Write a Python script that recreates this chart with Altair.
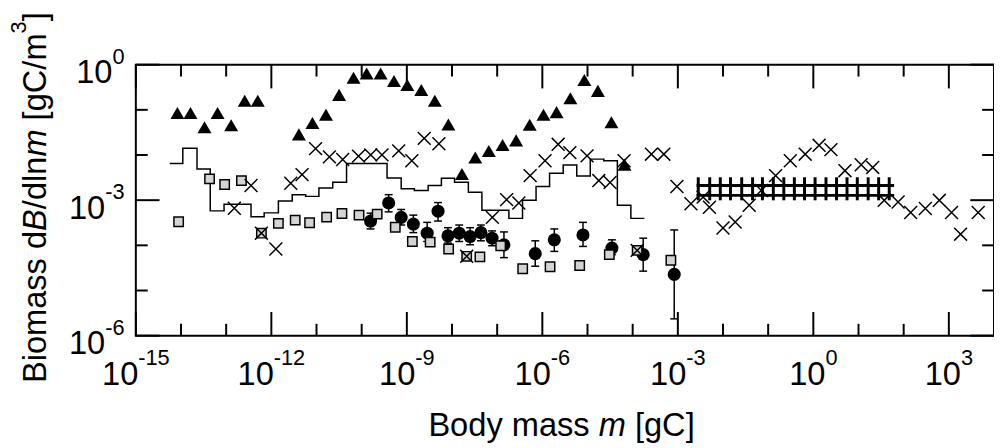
import altair as alt
import pandas as pd

# ---------------- values (log10 units) ----------------
tri_logm = [-14.08, -13.79, -13.48, -13.19, -12.89, -12.59, -12.30,
            -11.39, -11.09, -10.79, -10.50, -10.18, -9.89, -9.58, -9.285, -8.99, -8.68, -8.38, -8.08,
            -7.78, -7.485, -7.185, -6.88, -6.58, -6.28, -5.975, -5.685, -5.38, -5.07, -4.77, -4.47, -4.18]
tri_logB = [-1.07, -1.07, -1.385, -1.07, -1.34, -0.80, -0.80,
            -1.544, -1.29, -1.107, -0.669, -0.29, -0.197, -0.197, -0.363, -0.45, -0.56, -0.80, -1.325,
            -2.42, -2.056, -1.91, -1.78, -1.675, -1.33, -1.107, -1.05, -0.744, -0.34, -0.58, -1.275, -2.216]

cross_logm = [-12.82, -12.45, -12.22, -11.90, -11.57, -11.32, -11.02, -10.715, -10.42, -10.07,
              -9.80, -9.55, -9.18, -8.89, -8.615, -8.29, -7.675, -7.106, -6.79, -6.52,
              -6.27, -5.94, -5.65, -5.39, -5.01, -4.75, -4.50, -4.19, -3.90, -3.585,
              -3.31, -3.02, -2.71, -2.44, -2.30, -2.00, -1.73, -1.42, -1.15, -0.835,
              -0.51, -0.18, 0.127, 0.39, 0.70, 1.06, 1.315, 1.57, 1.877, 2.155,
              2.48, 2.79, 3.06, 3.26, 3.65]
cross_logB = [-3.178, -2.675, -3.731, -4.081, -2.625, -2.434, -1.859, -2.041, -2.10, -2.025,
              -1.997, -1.997, -1.909, -2.128, -1.632, -1.75, -4.243, -3.381, -2.988, -3.062,
              -2.456, -2.128, -1.763, -1.947, -2.019, -2.566, -2.609, -2.128, -4.112, -1.982,
              -1.982, -2.697, -3.08, -2.931, -3.156, -3.616, -3.484, -3.112, -2.784, -2.456,
              -2.128, -1.982, -1.785, -1.881, -2.347, -2.216, -2.275, -3.003, -3.04, -3.272,
              -3.185, -3.003, -3.272, -3.753, -3.272]

sq_logm = [-14.053, -13.368, -13.034, -12.662, -12.22, -11.844, -11.472, -11.153, -10.776, -10.437,
           -10.059, -9.657, -9.256, -8.878, -8.484, -8.075, -7.675, -7.382, -6.922, -6.435,
           -5.829, -5.173, -4.517, -3.90, -3.154]
sq_logB = [-3.478, -2.528, -2.653, -2.566, -3.731, -3.513, -3.441, -3.50, -3.375, -3.294,
           -3.331, -3.309, -3.60, -3.915, -3.928, -4.081, -4.243, -4.256, -4.009, -4.519,
           -4.475, -4.447, -4.206, -4.112, -4.331]

circ_logm = [-9.803, -9.403, -9.125, -8.856, -8.55, -8.309, -8.09, -7.841, -7.60, -7.36,
             -7.113, -6.85, -6.157, -5.735, -5.10, -4.46, -3.767, -3.08]
circ_logB = [-3.462, -3.062, -3.381, -3.528, -3.731, -3.244, -3.79, -3.731, -3.806, -3.718,
             -3.841, -3.987, -4.184, -3.878, -3.769, -4.059, -4.206, -4.643]
circ_lo = [-3.637, -3.259, -3.55, -3.718, -3.915, -3.462, -3.95, -3.915, -3.987, -3.90,
           -4.009, -4.272, -4.462, -4.134, -4.024, -4.206, -4.571, -5.628]
circ_hi = [-3.287, -2.878, -3.206, -3.331, -3.491, -3.053, -3.609, -3.55, -3.609, -3.55,
           -3.681, -3.703, -3.90, -3.637, -3.491, -3.878, -3.841, -3.659]

step_edges = [-14.25, -13.96, -13.646, -13.353, -13.047, -12.749, -12.45, -12.159, -11.844, -11.538,
              -11.24, -10.947, -10.641, -10.335, -10.035, -9.738, -9.438, -9.125, -8.834, -8.528,
              -8.235, -7.944, -7.638, -7.338, -7.038, -6.741, -6.439, -6.139, -5.84, -5.538,
              -5.238, -4.939, -4.639, -4.339, -4.04, -3.74]
step_logB = [-2.187, -1.850, -2.310, -3.237, -3.091, -3.091, -3.368, -3.281, -3.018, -2.878,
             -2.916, -2.730, -2.603, -2.187, -2.187, -2.187, -2.507, -2.747, -2.784, -2.675,
             -2.515, -2.603, -2.822, -3.222, -3.222, -3.403, -3.003, -2.697, -2.406, -2.222,
             -2.467, -2.091, -2.128, -3.112, -3.403]

ladder_logm = [-2.548, -2.294, -2.06, -1.835, -1.586, -1.345, -1.127, -0.886, -0.654, -0.42,
               -0.195, 0.039, 0.28, 0.514, 0.746, 0.973, 1.214, 1.446, 1.68]
ladder_span = [-3.003, -2.493]
rail_range = [-2.585, 1.789]
rail_logB = [-2.675, -2.894]

x_major_exp = [-15, -12, -9, -6, -3, 0, 3]
x_minor_exp = [-14, -13, -11, -10, -8, -7, -5, -4, -2, -1, 1, 2]
y_major_exp = [0, -3, -6]
y_minor_exp = [-1, -2, -4, -5]
x_label_exp = ["-15", "-12", "-9", "-6", "-3", "0", "3"]
y_label_exp = ["0", "-3", "-6"]

x_title = ["Body mass", "m", "[gC]"]
y_title = ["Biomass d", "B", "/dln", "m", "[gC/m", "3", "]"]

# ---------------- layout / style ----------------
W, H = 868.6, 274.3
FONT = "Liberation Sans"
BASE, SUP = 33, 22
AW = {' ': 278, 'B': 667, 'o': 556, 'd': 556, 'y': 500, 'm': 833, 'a': 556, 's': 500,
      '[': 278, 'g': 556, 'C': 722, ']': 278, 'i': 222, '/': 278, 'l': 222, 'n': 556, '-': 333}
for c in "0123456789":
    AW[c] = 556


def tw(s, size):
    return sum(AW[c] for c in s) * size / 1000.0


xsc = alt.Scale(type="log", domain=[1e-15, 1e4], nice=False)
ysc = alt.Scale(type="log", domain=[1e-6, 1.0], nice=False)


def xq(f):
    return alt.X(f"{f}:Q", scale=xsc, axis=None)


def yq(f):
    return alt.Y(f"{f}:Q", scale=ysc, axis=None)


def p10(a):
    return [10.0 ** v for v in a]


layers = []

# step line
step_df = pd.DataFrame({"m": p10(step_edges), "B": p10(step_logB + [step_logB[-1]])})
layers.append(alt.Chart(step_df).mark_line(interpolate="step-after", color="black", strokeWidth=1.5)
              .encode(x=xq("m"), y=yq("B")))

# circles with error bars
circ_df = pd.DataFrame({"m": p10(circ_logm), "B": p10(circ_logB), "lo": p10(circ_lo), "hi": p10(circ_hi)})
layers.append(alt.Chart(circ_df).mark_rule(color="black", strokeWidth=1.5)
              .encode(x=xq("m"), y=yq("lo"), y2="hi:Q"))
for f in ["lo", "hi"]:
    layers.append(alt.Chart(circ_df).mark_point(shape="M-1,0L1,0", size=64, filled=False, color="black",
                                                strokeWidth=1.5, opacity=1)
                  .encode(x=xq("m"), y=yq(f)))
layers.append(alt.Chart(circ_df).mark_point(shape="circle", filled=True, size=175, color="black", opacity=1)
              .encode(x=xq("m"), y=yq("B")))

# squares
sq_df = pd.DataFrame({"m": p10(sq_logm), "B": p10(sq_logB)})
layers.append(alt.Chart(sq_df).mark_point(shape="square", filled=True, size=90, fill="#d4d4d4", stroke="black",
                                          strokeWidth=1.5, opacity=1)
              .encode(x=xq("m"), y=yq("B")))

# crosses
cr_df = pd.DataFrame({"m": p10(cross_logm), "B": p10(cross_logB)})
layers.append(alt.Chart(cr_df).mark_point(shape="M-1,-1L1,1M-1,1L1,-1", size=170, filled=False, color="black",
                                          strokeWidth=1.5, opacity=1)
              .encode(x=xq("m"), y=yq("B")))

# triangles
tri_df = pd.DataFrame({"m": p10(tri_logm), "B": p10(tri_logB)})
layers.append(alt.Chart(tri_df).mark_point(shape="triangle-up", filled=True, size=200, color="black", opacity=1)
              .encode(x=xq("m"), y=yq("B")))

# ladder
lad_df = pd.DataFrame({"m": p10(ladder_logm), "lo": 10.0 ** ladder_span[0], "hi": 10.0 ** ladder_span[1]})
layers.append(alt.Chart(lad_df).mark_rule(color="black", strokeWidth=3)
              .encode(x=xq("m"), y=yq("lo"), y2="hi:Q"))
rail_df = pd.DataFrame({"a": 10.0 ** rail_range[0], "b": 10.0 ** rail_range[1], "B": p10(rail_logB)})
layers.append(alt.Chart(rail_df).mark_rule(color="black", strokeWidth=3)
              .encode(x=xq("a"), x2="b:Q", y=yq("B")))

# inward ticks
for exps, L in [(x_major_exp, 24), (x_minor_exp, 12)]:
    df = pd.DataFrame({"v": p10(exps)})
    for y0, y1 in [(H, H - L), (0, L)]:
        layers.append(alt.Chart(df).mark_rule(color="black", strokeWidth=2)
                      .encode(x=xq("v"), y=alt.value(y0), y2=alt.value(y1)))
for exps, L in [(y_major_exp, 24), (y_minor_exp, 12)]:
    df = pd.DataFrame({"v": p10(exps)})
    for x0, x1 in [(0, L), (W, W - L)]:
        layers.append(alt.Chart(df).mark_rule(color="black", strokeWidth=2)
                      .encode(y=yq("v"), x=alt.value(x0), x2=alt.value(x1)))

# x tick labels
w10 = tw("10", BASE)
for e in x_label_exp:
    we = tw(e, SUP)
    g = w10 + we
    df = pd.DataFrame({"v": [10.0 ** int(e)], "b": ["10"], "e": [e]})
    layers.append(alt.Chart(df).mark_text(font=FONT, fontSize=BASE, align="left", baseline="alphabetic",
                                          dx=-g / 2, color="black")
                  .encode(x=xq("v"), y=alt.value(H + 49.7), text="b:N"))
    layers.append(alt.Chart(df).mark_text(font=FONT, fontSize=SUP, align="left", baseline="alphabetic",
                                          dx=-g / 2 + w10, color="black")
                  .encode(x=xq("v"), y=alt.value(H + 29.7), text="e:N"))

# y tick labels
R = 126 - 137.4
for e in y_label_exp:
    we = tw(e, SUP)
    df = pd.DataFrame({"v": [10.0 ** int(e)], "b": ["10"], "e": [e]})
    layers.append(alt.Chart(df).mark_text(font=FONT, fontSize=BASE, align="right", baseline="alphabetic",
                                          dy=19, color="black")
                  .encode(y=yq("v"), x=alt.value(R - we), text="b:N"))
    layers.append(alt.Chart(df).mark_text(font=FONT, fontSize=SUP, align="left", baseline="alphabetic",
                                          dy=-1, color="black")
                  .encode(y=yq("v"), x=alt.value(R - we), text="e:N"))


def piece(text, x, y, size, italic=False, angle=0):
    df = pd.DataFrame({"t": [text]})
    kw = dict(font=FONT, fontSize=size, align="left", baseline="alphabetic", color="black", angle=angle)
    if italic:
        kw["fontStyle"] = "italic"
    return alt.Chart(df).mark_text(**kw).encode(x=alt.value(x), y=alt.value(y), text="t:N")


# x title: "Body mass m [gC]"
xt0 = 433.5 - 137.4
xt_y = 438.3 - 62.7
sp = tw(" ", BASE)
x1 = xt0 + tw(x_title[0], BASE) + sp
x2 = x1 + tw(x_title[1], BASE) + sp
layers.append(piece(x_title[0], xt0, xt_y, BASE))
layers.append(piece(x_title[1], x1, xt_y, BASE, italic=True))
layers.append(piece(x_title[2], x2, xt_y, BASE))

# y title (rotated, reading upward)
yb = 46 - 137.4
y0 = 385 - 62.7
sizes = [BASE, BASE, BASE, BASE, BASE, SUP, BASE]
italics = [False, True, False, True, False, False, False]
pos = y0
for i, t in enumerate(y_title):
    xx = yb - 20 if i == 5 else yb
    layers.append(piece(t, xx, pos, sizes[i], italic=italics[i], angle=270))
    pos -= tw(t, sizes[i])
    if i == 3:
        pos -= sp

chart = (alt.layer(*layers)
         .properties(width=W, height=H, autosize=alt.AutoSizeParams(type="none"),
                     padding={"left": 129.4, "top": 54.7, "right": 0, "bottom": 109})
         .configure_view(stroke="black", strokeWidth=2))

chart.save("out.html", embed_options={"renderer": "svg", "actions": False})
